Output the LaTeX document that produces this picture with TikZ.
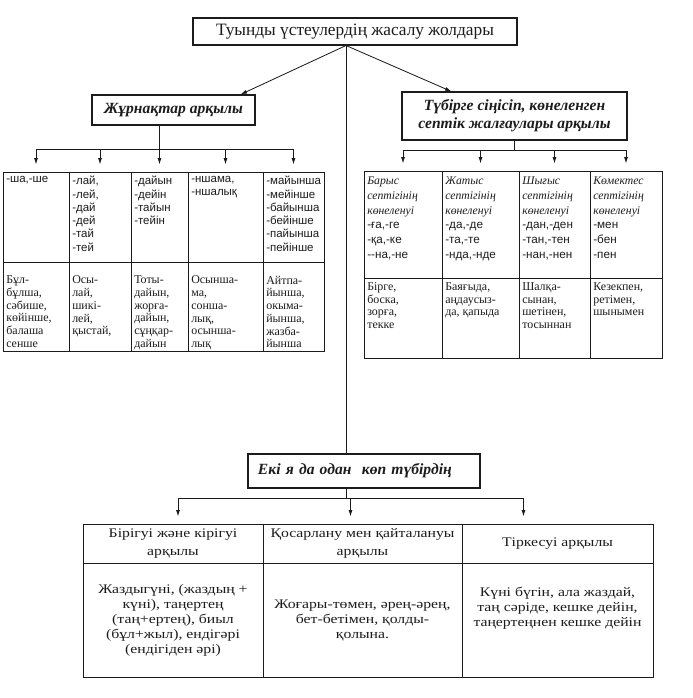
\documentclass[tikz,border=0pt]{standalone}
\usepackage{fontspec}
\setmainfont{Liberation Serif}
\setsansfont{Liberation Sans}
\newfontfamily\widefont[FakeStretch=1.2]{Liberation Serif}
\usetikzlibrary{arrows.meta,fit}
\definecolor{ink}{HTML}{1C1C1C}
\definecolor{paper}{HTML}{FFFFFF}

\begin{document}
\begin{tikzpicture}[x=0.03cm,y=-0.03cm,
  box/.style={draw=ink,line width=0.9pt,inner sep=0pt},
  cell/.style={draw=ink,line width=0.8pt,inner sep=0pt},
  head/.style={font=\fontsize{13.3}{15.5}\selectfont\bfseries\itshape,text=ink,align=center},
  sfx/.style={anchor=north west,align=left,inner xsep=3pt,inner ysep=4pt,text=ink,font=\sffamily\fontsize{9.8}{11.3}\selectfont},
  word/.style={anchor=north west,align=left,inner xsep=3pt,inner ysep=4pt,text=ink,font=\fontsize{10.2}{10.9}\selectfont},
  wordlow/.style={word,yshift=-8pt},
  casetxt/.style={anchor=north west,align=left,inner xsep=3pt,inner ysep=5pt,text=ink,font=\fontsize{10}{12.7}\selectfont},
  colhead/.style={align=center,text=ink,font=\widefont\fontsize{11.2}{15.3}\selectfont},
  joint/.style={align=center,text=ink,font=\widefont\fontsize{11.2}{12.8}\selectfont},
  link/.style={draw=ink,line width=0.7pt},
  arr/.style={-{Latex[length=5.5pt,width=3.4pt]},line width=0.7pt,ink}]
  \useasboundingbox (0,0) rectangle (692,698);
  \fill[paper] (0,0) rectangle (692,698);

  % ===== top =====
  \node[box,font=\fontsize{14.8}{17}\selectfont,text=ink,minimum width=9.72cm,minimum height=0.81cm] (title) at (355,31.5) {Туынды үстеулердің жасалу жолдары};
  \coordinate (root) at ([xshift=-0.27cm]title.south);
  \node[box,head,minimum width=4.89cm,minimum height=0.9cm] (jurn) at (173.5,110) {Жұрнақтар арқылы};
  \node[box,head,minimum width=6.75cm,minimum height=1.44cm] (tubir) at (514.5,116) {Түбірге сіңісіп, көнеленген\\септік жалғаулары арқылы};
  \draw[arr] (root) -- ([xshift=-0.45cm]jurn.north east);
  \draw[arr] (root) -- ([xshift=1.5cm]tubir.north west);

  % ===== suffix table (left) =====
  \node[cell,fit={(3,172) (69,262)}] (ja) {};
  \node[cell,fit={(69,172) (131,262)}] (jb) {};
  \node[cell,fit={(131,172) (188,262)}] (jc) {};
  \node[cell,fit={(188,172) (263,262)}] (jd) {};
  \node[cell,fit={(263,172) (324,262)}] (je) {};
  \node[cell,fit={(3,262) (69,351)}] (ja2) {};
  \node[cell,fit={(69,262) (131,351)}] (jb2) {};
  \node[cell,fit={(131,262) (188,351)}] (jc2) {};
  \node[cell,fit={(188,262) (263,351)}] (jd2) {};
  \node[cell,fit={(263,262) (324,351)}] (je2) {};

  \node[sfx] (ja-t) at (ja.north west) {-ша,-ше};
  \node[sfx] (jb-t) at (jb.north west) {-лай,\\-лей,\\-дай\\-дей\\-тай\\-тей};
  \node[sfx] (jc-t) at (jc.north west) {-дайын\\-дейін\\-тайын\\-тейін};
  \node[sfx] (jd-t) at (jd.north west) {-ншама,\\-ншалық};
  \node[sfx] (je-t) at (je.north west) {-майынша\\-мейінше\\-байынша\\-бейінше\\-пайынша\\-пейінше};
  \node[wordlow] (ja2-t) at (ja2.north west) {Бұл-\\бұлша,\\сәбише,\\көйінше,\\балаша\\сенше};
  \node[wordlow] (jb2-t) at (jb2.north west) {Осы-\\лай,\\шикі-\\лей,\\қыстай,};
  \node[wordlow] (jc2-t) at (jc2.north west) {Тоты-\\дайын,\\жорға-\\дайын,\\сұңқар-\\дайын};
  \node[wordlow] (jd2-t) at (jd2.north west) {Осынша-\\ма,\\сонша-\\лық,\\осынша-\\лық};
  \node[wordlow] (je2-t) at (je2.north west) {Айтпа-\\йынша,\\окыма-\\йынша,\\жазба-\\йынша};

  \coordinate (jbar) at (160,149);
  \draw[link] (jc.north |- jurn.south) -- (jc.north |- jbar);
  \draw[link] (ja.north |- jbar) -- (je.north |- jbar);
  \foreach \c in {ja,jb,jc,jd,je}
    \draw[arr] (\c.north |- jbar) -- ([yshift=6pt]\c.north);

  % ===== case table (right) =====
  \node[cell,fit={(364,171) (442,278)}] (ra) {};
  \node[cell,fit={(442,171) (519,278)}] (rb) {};
  \node[cell,fit={(519,171) (590,278)}] (rc) {};
  \node[cell,fit={(590,171) (662,278)}] (rd) {};
  \node[cell,fit={(364,278) (442,358)}] (ra2) {};
  \node[cell,fit={(442,278) (519,358)}] (rb2) {};
  \node[cell,fit={(519,278) (590,358)}] (rc2) {};
  \node[cell,fit={(590,278) (662,358)}] (rd2) {};

  \node[casetxt] (ra-t) at (ra.north west) {\textit{Барыс}\\\textit{септігінің}\\\textit{көнеленуі}\\\textsf{-ға,-ге}\\\textsf{-қа,-ке}\\\textsf{-{}-на,-не}};
  \node[casetxt] (rb-t) at (rb.north west) {\textit{Жатыс}\\\textit{септігінің}\\\textit{көнеленуі}\\\textsf{-да,-де}\\\textsf{-та,-те}\\\textsf{-нда,-нде}};
  \node[casetxt] (rc-t) at (rc.north west) {\textit{Шығыс}\\\textit{септігінің}\\\textit{көнеленуі}\\\textsf{-дан,-ден}\\\textsf{-тан,-тен}\\\textsf{-нан,-нен}};
  \node[casetxt] (rd-t) at (rd.north west) {\textit{Көмектес}\\\textit{септігінің}\\\textit{көнеленуі}\\\textsf{-мен}\\\textsf{-бен}\\\textsf{-пен}};
  \node[word] (ra2-t) at (ra2.north west) {Бірге,\\боска,\\зорға,\\текке};
  \node[word] (rb2-t) at (rb2.north west) {Баяғыда,\\аңдаусыз-\\да, қапыда};
  \node[word] (rc2-t) at (rc2.north west) {Шалқа-\\сынан,\\шетінен,\\тосыннан};
  \node[word] (rd2-t) at (rd2.north west) {Кезекпен,\\ретімен,\\шынымен};

  \coordinate (rbar) at (514,150);
  \draw[link] (tubir.south) -- (tubir.south |- rbar);
  \draw[link] (ra.north |- rbar) -- (rd.north |- rbar);
  \foreach \c in {ra,rb,rc,rd}
    \draw[arr] (\c.north |- rbar) -- ([yshift=6pt]\c.north);

  % ===== compound stems =====
  \node[box,head,align=left,inner xsep=0.3cm,text width=6.36cm,minimum height=1.02cm] (eki) at (364,471) {Екі я да одан\ \ көп түбірдің};
  \draw[link] (root) -- (root |- eki.north);

  \node[cell,fit={(83,524) (263,563)}] (ka) {};
  \node[cell,fit={(263,524) (462,563)}] (kb) {};
  \node[cell,fit={(462,524) (653,563)}] (kc) {};
  \node[cell,fit={(83,563) (263,677)}] (ka2) {};
  \node[cell,fit={(263,563) (462,677)}] (kb2) {};
  \node[cell,fit={(462,563) (653,677)}] (kc2) {};
  \node[colhead] (ka-t) at (ka.center) {Бірігуі және кірігуі\\арқылы};
  \node[colhead] (kb-t) at (kb.center) {Қосарлану мен қайталануы\\арқылы};
  \node[colhead] (kc-t) at (kc.center) {Тіркесуі арқылы};
  \node[joint] (ka2-t) at (ka2.center) {Жаздыгүні, (жаздың +\\күні), таңертең\\(таң+ертең), биыл\\(бұл+жыл), ендігәрі\\(ендігіден әрі)};
  \node[joint] (kb2-t) at (kb2.center) {Жоғары-төмен, әрең-әрең,\\бет-бетімен, қолды-\\қолына.};
  \node[joint] (kc2-t) at ([yshift=0.36cm]kc2.center) {Күні бүгін, ала жаздай,\\таң сәріде, кешке дейін,\\таңертеңнен кешке дейін};

  \coordinate (kbar) at (346,498);
  \draw[link] (root |- eki.south) -- (root |- kbar);
  \foreach \c/\s in {ka/0.15,kb/-0.36,kc/-1.02} {
    \path ([xshift=\s cm]\c.north) coordinate (t);
    \draw[arr] (t |- kbar) -- ([yshift=6pt]t);
  }
  \draw[link] ([xshift=0.15cm]ka.north |- kbar) -- ([xshift=-1.02cm]kc.north |- kbar);
\end{tikzpicture}
\end{document}
